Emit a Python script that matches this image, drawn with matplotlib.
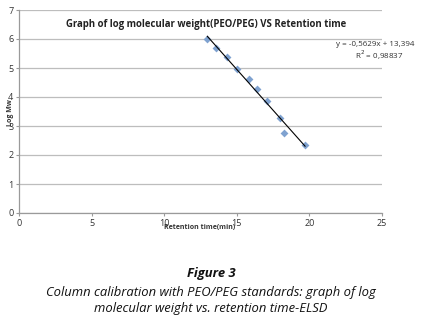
import matplotlib
matplotlib.use('Agg')
import matplotlib.pyplot as plt
import numpy as np

# retention time (min) vs log Mw
ret_time = [12.97, 13.55, 14.30, 14.99, 15.84, 16.41, 17.10, 17.98, 18.27, 19.70]
log_mw = [6.00, 5.68, 5.37, 4.97, 4.63, 4.29, 3.87, 3.27, 2.77, 2.34]
slope = -0.5629
intercept = 13.394
x_ticks = [0, 5, 10, 15, 20, 25]
y_ticks = [0, 1, 2, 3, 4, 5, 6, 7]

plt.rcParams['font.family'] = ['Open Sans', 'DejaVu Sans']

fig = plt.figure(figsize=(4.22, 3.31), dpi=100)
W, H = 422, 331
ax = fig.add_axes([19 / W, 1 - 213 / H, (382 - 19) / W, (213 - 10) / H])

ax.set_xlim(0, 25)
ax.set_ylim(0, 7)
ax.set_xticks(x_ticks)
ax.set_yticks(y_ticks)
ax.grid(axis='y', color='#bdbdbd', linewidth=0.9)
ax.set_axisbelow(True)
for s in ['top', 'right']:
    ax.spines[s].set_visible(False)
for s in ['left', 'bottom']:
    ax.spines[s].set_color('#9a9a9a')
    ax.spines[s].set_linewidth(0.9)
ax.tick_params(labelsize=6.5, colors='#9a9a9a', labelcolor='#333333', length=2, pad=2)

ax.scatter(ret_time, log_mw, marker='D', s=16, color='#7fa2d0', zorder=3, linewidths=0)
xs = np.array([ret_time[0], ret_time[-1]])
ax.plot(xs, slope * xs + intercept, color='black', linewidth=0.8, zorder=4)

fig.text(206 / W, 1 - 25 / H, 'Graph of log molecular weight(PEO/PEG) VS Retention time',
         ha='center', va='center', fontsize=6.9, fontweight='bold', color='#222222')
fig.text(414 / W, 1 - 45 / H, 'y = -0,5629x + 13,394', ha='right', va='center',
         fontsize=5.8, color='#333333')
fig.text(404 / W, 1 - 55 / H, 'R$^2$ = 0,98837', ha='right', va='center',
         fontsize=5.8, color='#333333')
fig.text(10 / W, 1 - 113 / H, 'Log Mw', rotation=90, ha='center', va='center',
         fontsize=5, fontweight='bold', color='#333333')
fig.text(200 / W, 1 - 228 / H, 'Retention time(min)', ha='center', va='center',
         fontsize=5, fontweight='bold', color='#333333')

fig.text(0.5, 1 - 273 / H, 'Figure 3', ha='center', va='center',
         fontsize=9.4, fontweight='bold', style='italic', color='#111111')
fig.text(0.5, 1 - 300.5 / H,
         'Column calibration with PEO/PEG standards: graph of log\nmolecular weight vs. retention time-ELSD',
         ha='center', va='center', fontsize=9.4, style='italic', color='#111111',
         linespacing=1.22)

fig.savefig('out.png', dpi=100, facecolor='white')
